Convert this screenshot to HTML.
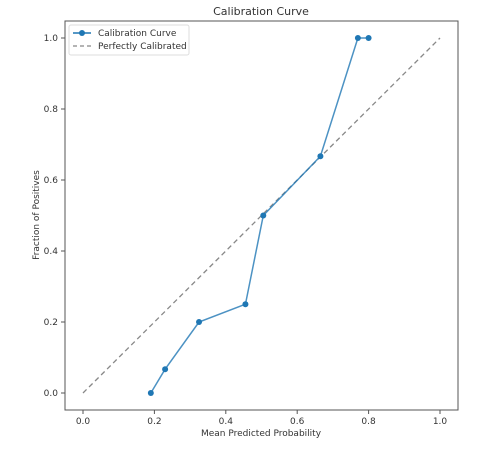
<!DOCTYPE html>
<html><head><meta charset="utf-8"><style>
body{margin:0;background:#fff;width:485px;height:445px;overflow:hidden}
text{font-family:"DejaVu Sans","Liberation Sans",sans-serif;fill:#333}
</style></head><body>
<svg id="chart" width="485" height="445">
<text x="261" y="15" text-anchor="middle" font-size="11">Calibration Curve</text>
<g id="ticks"></g>
<line x1="83" y1="393" x2="440" y2="38" stroke="#888" stroke-width="1.3" stroke-dasharray="5,3.5"/>
<g id="series"></g>
<rect x="65" y="21" width="393" height="389" fill="none" stroke="#555" stroke-width="1"/>
<text x="261" y="436" text-anchor="middle" font-size="9">Mean Predicted Probability</text>
<text transform="translate(39,215) rotate(-90)" text-anchor="middle" font-size="9">Fraction of Positives</text>
<g>
<rect x="69" y="25" width="120" height="30" fill="#fff" stroke="#ddd" rx="2"/>
<line x1="73" y1="33" x2="91" y2="33" stroke="#1f77b4" stroke-width="1.5"/>
<circle cx="82" cy="33" r="3" fill="#1f77b4"/>
<text x="98" y="36" font-size="9">Calibration Curve</text>
<line x1="73" y1="46" x2="91" y2="46" stroke="#888" stroke-width="1.3" stroke-dasharray="4,3"/>
<text x="98" y="49" font-size="9">Perfectly Calibrated</text>
</g>
</svg>
<script>
const meanPredicted=[0.19,0.23,0.325,0.455,0.505,0.665,0.77,0.80];
const fractionPositives=[0.0,0.067,0.2,0.25,0.5,0.667,1.0,1.0];
const xTicks=["0.0","0.2","0.4","0.6","0.8","1.0"];
const yTicks=["0.0","0.2","0.4","0.6","0.8","1.0"];
const NS="http://www.w3.org/2000/svg";
const X=v=>83+v*357, Y=v=>393-v*355;
const tg=document.getElementById('ticks');
xTicks.forEach(t=>{const v=+t;
 const l=document.createElementNS(NS,'line');l.setAttribute('x1',X(v));l.setAttribute('x2',X(v));l.setAttribute('y1',410);l.setAttribute('y2',414);l.setAttribute('stroke','#555');tg.appendChild(l);
 const s=document.createElementNS(NS,'text');s.setAttribute('x',X(v));s.setAttribute('y',424);s.setAttribute('text-anchor','middle');s.setAttribute('font-size','9');s.textContent=t;
 
 
 tg.appendChild(s);});
yTicks.forEach(t=>{const v=+t;
 const l=document.createElementNS(NS,'line');l.setAttribute('x1',61);l.setAttribute('x2',65);l.setAttribute('y1',Y(v));l.setAttribute('y2',Y(v));l.setAttribute('stroke','#555');tg.appendChild(l);
 const s=document.createElementNS(NS,'text');s.setAttribute('x',58);s.setAttribute('y',Y(v)+3);s.setAttribute('text-anchor','end');s.setAttribute('font-size','9');s.textContent=t;
 
 
 tg.appendChild(s);});
const sg=document.getElementById('series');
const pl=document.createElementNS(NS,'polyline');
pl.setAttribute('points',meanPredicted.map((v,i)=>X(v)+','+Y(fractionPositives[i])).join(' '));
pl.setAttribute('fill','none');pl.setAttribute('stroke','#1f77b4');pl.setAttribute('stroke-width','1.5');pl.setAttribute('opacity','0.8');


sg.appendChild(pl);
meanPredicted.forEach((v,i)=>{const c=document.createElementNS(NS,'circle');
 c.setAttribute('cx',X(v));c.setAttribute('cy',Y(fractionPositives[i]));c.setAttribute('r',3);c.setAttribute('fill','#1f77b4');
 
 
 sg.appendChild(c);});
</script>
</body></html>
